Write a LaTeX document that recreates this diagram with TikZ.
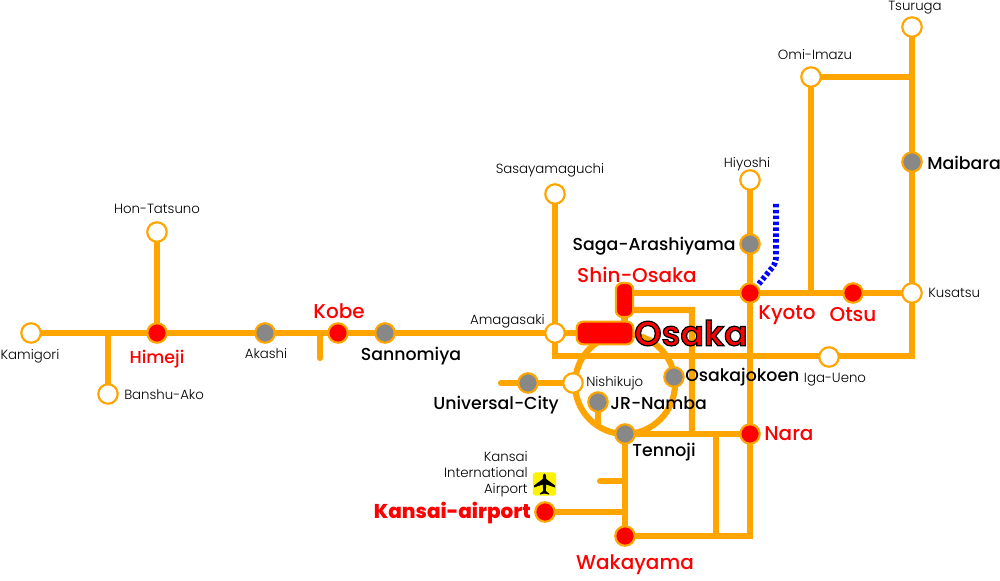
\documentclass[tikz,border=0pt]{standalone}
\usepackage{fontspec}
\usetikzlibrary{backgrounds}
\setmainfont{Poppins}
\newfontfamily\lightf{Poppins Light}
\newfontfamily\medf{Poppins Medium}
\newfontfamily\boldf{Poppins ExtraBold}
\newfontfamily\sbf{Poppins SemiBold}
\definecolor{rail}{HTML}{FFA500}
\definecolor{stgray}{HTML}{888888}
\definecolor{stred}{HTML}{FF0000}
\tikzset{
  x=0.75pt,y=-0.75pt,
  stn/.style={circle,draw=rail,line width=1.6pt,minimum size=14.6pt,inner sep=0pt},
  wstn/.style={stn,fill=white},
  gstn/.style={stn,fill=stgray},
  rstn/.style={stn,fill=stred},
  line/.style={draw=rail,line width=4.6pt,line join=miter},
  stub/.style={line,line cap=round},
  small/.style={font=\lightf\fontsize{10}{12}\selectfont,text=black,inner sep=0pt},
  lab/.style={font=\medf\fontsize{13}{15}\selectfont,text=black,inner sep=0pt},
  redlab/.style={font=\medf\fontsize{15}{17}\selectfont,text=stred,inner sep=0pt},
  hub/.style={draw=rail,line width=1.6pt,fill=stred,rounded corners=5pt,inner sep=0pt},
}
\begin{document}
\begin{tikzpicture}
\useasboundingbox (0,0) rectangle (1000,581);
% stations
\node[wstn] (tsuruga) at (912,27) {};
\node[wstn] (omi) at (811,77) {};
\node[gstn] (maibara) at (912,162) {};
\node[wstn] (hiyoshi) at (750,180) {};
\node[gstn] (saga) at (750,244) {};
\node[rstn] (kyoto) at (750,293) {};
\node[rstn] (otsu) at (853,293) {};
\node[wstn] (kusatsu) at (912,293) {};
\node[wstn] (iga) at (829,357) {};
\node[wstn] (sasa) at (555,194) {};
\node[wstn] (amagasaki) at (555,333) {};
\node[wstn] (hon) at (157,232) {};
\node[rstn] (himeji) at (157,333) {};
\node[wstn] (kamigori) at (31,333) {};
\node[wstn] (banshu) at (108,394) {};
\node[gstn] (akashi) at (265,333) {};
\node[rstn] (kobe) at (338,333) {};
\node[gstn] (sannomiya) at (385,333) {};
\node[gstn] (universal) at (528,383) {};
\node[wstn] (nishikujo) at (573,383) {};
\node[gstn] (namba) at (598,402) {};
\node[gstn] (jokoen) at (674,377) {};
\node[gstn] (tennoji) at (625,434) {};
\node[rstn] (nara) at (750,434) {};
\node[rstn] (kix) at (545,512) {};
\node[rstn] (wakayama) at (625,536) {};
\node[hub,minimum width=42.5pt,minimum height=17pt] (osaka) at (605,333) {};
\node[hub,minimum width=13pt,minimum height=25.5pt] (shin) at (624.5,300) {};
% free ends and corners
\coordinate (c-kobe) at (320,333);
\coordinate (c-kobe2) at (320,358);
\coordinate (c-ako) at (108,333);
\coordinate (c-univ) at (501,383);
\coordinate (c-iga1) at (555,356);
\coordinate (c-iga2) at (912,356);
\coordinate (c-omi) at (912,77);
\coordinate (c-omi2) at (811,293);
\coordinate (c-s0) at (625,293);
\coordinate (c-s1) at (625,310);
\coordinate (c-s2) at (692,310);
\coordinate (c-s3) at (692,434);
\coordinate (c-w) at (750,536);
\coordinate (c-v1) at (716,434);
\coordinate (c-v2) at (716,536);
\coordinate (c-st1) at (600,481);
\coordinate (c-st2) at (625,481);
\coordinate (c-kx) at (625,512);
\coordinate (c-nb) at (598,427);
\coordinate (c-loop) at (625,384);
\coordinate (c-b1) at (776,204);
\coordinate (c-b2) at (776,263);
\begin{scope}[on background layer]
\draw[line] (kamigori.center) -- (sannomiya.center) -- (amagasaki.center) -- (osaka.center);
\draw[line] (himeji.center) -- (hon.center);
\draw[stub] (c-ako) -- (banshu.center);
\draw[stub] (c-kobe) -- (c-kobe2);
\draw[line] (amagasaki.center) -- (sasa.center);
\draw[line] (amagasaki.center) -- (c-iga1) -- (c-iga2) -- (c-omi) -- (tsuruga.center);
\draw[line] (omi.center) -- (c-omi);
\draw[line] (omi.center) -- (c-omi2);
\draw[line] (c-s0) -- (kusatsu.center);
\draw[line] (shin.center) -- (c-s1) -- (c-s2) -- (c-s3);
\draw[line] (osaka.center -| shin.center) -- (shin.center);
\draw[line] (c-loop) circle[radius=50*0.75pt];
\draw[stub] (c-univ) -- (nishikujo.center);
\draw[line] (namba.center) -- (c-nb);
\draw[line] (hiyoshi.center) -- (c-w) -- (wakayama.center);
\draw[line] (tennoji.center) -- (nara.center);
\draw[line] (tennoji.center) -- (wakayama.center);
\draw[line] (c-v1) -- (c-v2);
\draw[stub] (c-st1) -- (c-st2);
\draw[line] (kix.center) -- (c-kx);
\end{scope}
% blue line
\draw[blue,line width=4.2pt,dash pattern=on 2.6pt off 1.8pt,rounded corners=4pt] (c-b1) -- (c-b2) -- (kyoto.45);
% airplane
\node[fill=yellow,rounded corners=2pt,minimum size=17.5pt,inner sep=0pt] (plane) at (544.5,484) {};
\fill[black] (544.5,473.5) .. controls (546,473.5) and (546.2,476) .. (546.2,479)
  -- (555,485.5) -- (555,487.5) -- (546.2,484.5) -- (545.8,491) -- (549,493.5) -- (549,494.5)
  -- (544.5,493.5) -- (540,494.5) -- (540,493.5) -- (543.2,491) -- (542.8,484.5)
  -- (534,487.5) -- (534,485.5) -- (542.8,479) .. controls (542.8,476) and (543,473.5) .. (544.5,473.5) -- cycle;
% small labels
\node[small] (t1) at (915,8) {Tsuruga};
\node[small] (t2) at (815,55) {Omi-Imazu};
\node[small] (t3) at (747,164) {Hiyoshi};
\node[small] (t4) at (550,170) {Sasayamaguchi};
\node[small] (t5) at (157,209) {Hon-Tatsuno};
\node[small,anchor=east] (t6) at (545,321) {Amagasaki};
\node[small,anchor=west] (t7) at (928,293) {Kusatsu};
\node[small] (t8) at (835,380) {Iga-Ueno};
\node[small] (t9) at (266,354) {Akashi};
\node[small] (t10) at (30,356) {Kamigori};
\node[small,anchor=west] (t11) at (124,395) {Banshu-Ako};
\node[small,anchor=west] (t12) at (586,383) {Nishikujo};
\node[small,align=right,anchor=east] (t13) at (528,474) {Kansai\\International\\Airport};
% medium labels
\node[lab,anchor=west] (l1) at (927,163) {Maibara};
\node[lab,anchor=east] (l2) at (736,246) {Saga-Arashiyama};
\node[lab] (l3) at (411,356) {Sannomiya};
\node[lab,anchor=west] (l4) at (685,377) {Osakajokoen};
\node[lab,anchor=west] (l5) at (610,403) {JR-Namba};
\node[lab] (l6) at (496,405) {Universal-City};
\node[lab] (l7) at (664,452) {Tennoji};
% red labels
\node[redlab] (r1) at (637,275) {Shin-Osaka};
\node[redlab] (r2) at (787,315) {Kyoto};
\node[redlab] (r3) at (853,315) {Otsu};
\node[redlab] (r4) at (339,311) {Kobe};
\node[redlab,font=\medf\fontsize{13}{15}\selectfont] (r5) at (157,359) {Himeji};
\node[redlab,anchor=west] (r6) at (764,434) {Nara};
\node[redlab] (r7) at (635,565) {Wakayama};
\node[redlab,anchor=east,font=\boldf\fontsize{15}{17}\selectfont] (r8) at (531,513) {Kansai-airport};
\node[font=\sbf\fontsize{26}{28}\selectfont,inner sep=0pt] (osakal) at (691,333) {\special{pdf:code 1 0 0 rg 0 0 0 RG 0.9 w 2 Tr}Osaka\special{pdf:code 0 Tr 0 0 0 rg}};
\end{tikzpicture}
\end{document}
